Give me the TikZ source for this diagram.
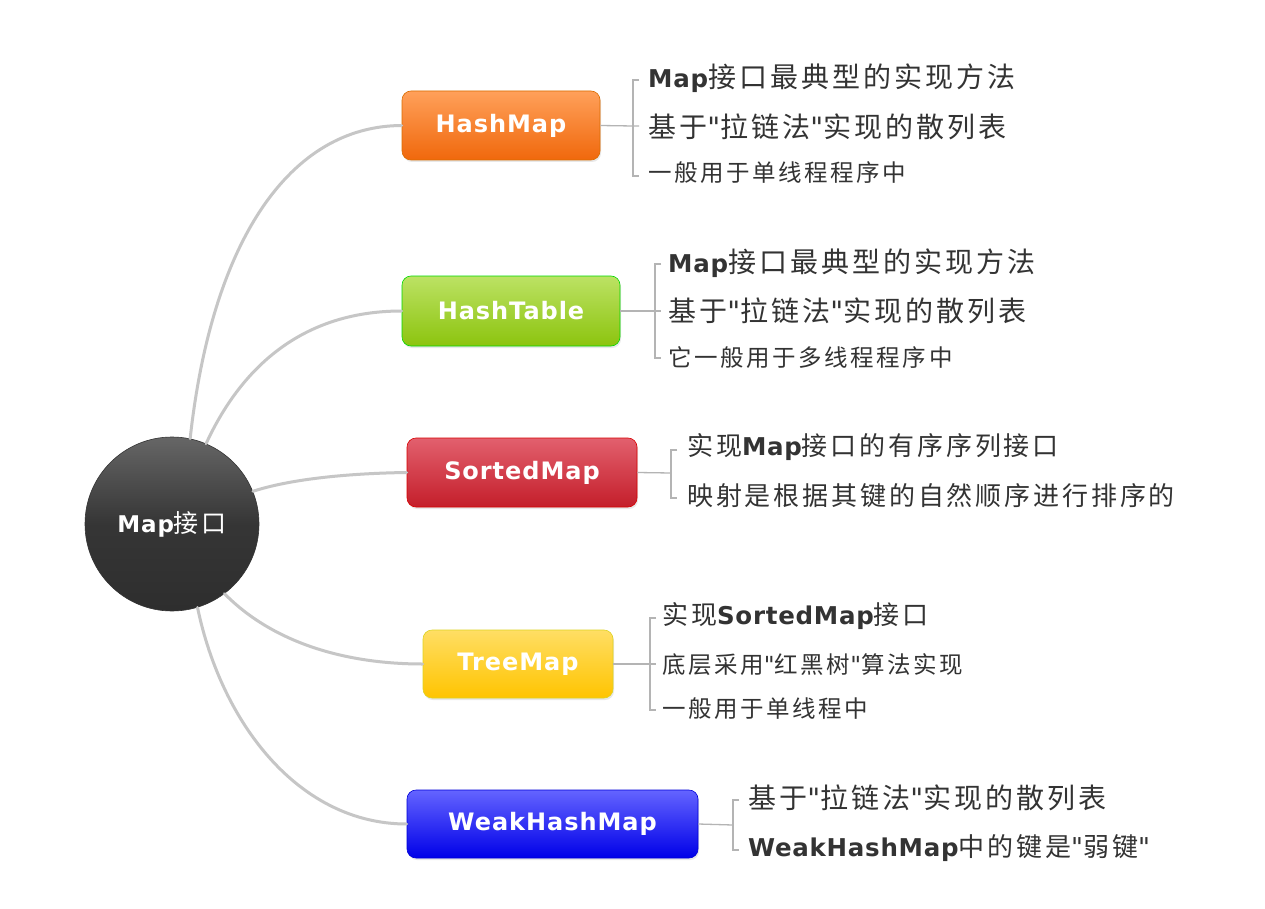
\documentclass[tikz,border=0pt]{standalone}
\usepackage{fontspec}
\usetikzlibrary{shadows}
\newfontfamily\cjk{Noto Sans CJK SC}[LetterSpace=11]
\newfontfamily\lat{DejaVu Sans}[LetterSpace=4]
\newfontfamily\latd{DejaVu Sans}[LetterSpace=3]
\definecolor{txt}{HTML}{333333}
\definecolor{linkgray}{HTML}{C6C6C6}
\definecolor{brgray}{HTML}{B4B4B4}
\newcommand{\q}{{\lat"}}
\newcommand{\B}[1]{{\latd\bfseries\fontsize{24.5}{28}\selectfont #1}}
\tikzset{
  branch/.style={draw=linkgray, line width=3pt, line cap=round},
  bracketline/.style={draw=brgray, line width=1.3pt},
  topic/.style={rounded corners=9pt, draw=#1!85!black, line width=0.6pt,
    drop shadow={opacity=0.18, shadow xshift=1pt, shadow yshift=-2pt},
    text=white, font=\lat\bfseries\fontsize{24}{28}\selectfont, inner sep=0pt},
  big/.style={anchor=west, inner sep=0pt, text=txt, font=\cjk\fontsize{28}{32}\selectfont},
  mid/.style={anchor=west, inner sep=0pt, text=txt, font=\cjk\fontsize{26}{30}\selectfont},
  small/.style={anchor=west, inner sep=0pt, text=txt, font=\cjk\fontsize{23.5}{27}\selectfont},
}
\begin{document}
\begin{tikzpicture}[x=1pt,y=-1pt]
\useasboundingbox[fill=white] (0,0) rectangle (1265,909);

% root
\node[circle, minimum size=174pt, inner sep=0pt, draw=black!80, line width=0.6pt,
  top color=black!60, bottom color=black!82, middle color=black!79,
  text=white, font=\cjk\fontsize{25}{29}\selectfont] (root) at (172,524)
  {{\lat\bfseries\fontsize{23}{27}\selectfont Map}接口};

% topics
\node[topic=orange, minimum width=198pt, minimum height=69pt,
  top color={rgb,255:red,255;green,160;blue,90}, bottom color={rgb,255:red,240;green,104;blue,12}]
  (hm) at (501,125.5) {HashMap};
\node[topic=green, minimum width=218pt, minimum height=70pt,
  top color={rgb,255:red,188;green,226;blue,100}, bottom color={rgb,255:red,140;green,196;blue,14}]
  (ht) at (511,311) {HashTable};
\node[topic=red, minimum width=230pt, minimum height=69pt,
  top color={rgb,255:red,226;green,96;blue,110}, bottom color={rgb,255:red,196;green,30;blue,42}]
  (sm) at (522,472.5) {SortedMap};
\node[topic=yellow, minimum width=190pt, minimum height=68pt,
  top color={rgb,255:red,255;green,222;blue,100}, bottom color={rgb,255:red,255;green,196;blue,0}]
  (tm) at (518,664) {TreeMap};
\node[topic=blue, minimum width=291pt, minimum height=68pt,
  top color={rgb,255:red,100;green,100;blue,255}, bottom color={rgb,255:red,0;green,0;blue,232}]
  (wm) at (552.5,824) {WeakHashMap};

% branches from root
\draw[branch] (root.78) .. controls (212,240) and (290,126) .. (hm.west);
\draw[branch] (root.67) .. controls (240,370) and (300,311) .. (ht.west);
\draw[branch] (root.22) .. controls (300,476) and (370,473) .. (sm.west);
\draw[branch] (root.-53) .. controls (270,640) and (340,664) .. (tm.west);
\draw[branch] (root.-73) .. controls (222,725) and (300,824) .. (wm.west);

% HashMap details
\node[big]   (hm1) at (648,78)  {\B{Map}接口最典型的实现方法};
\node[big]   (hm2) at (648,127) {基于\q 拉链法\q 实现的散列表};
\node[small] (hm3) at (648,173) {一般用于单线程程序中};
\coordinate (hmb) at (633,126);
\draw[bracketline] (hm.east) -- (hmb) -- ++(6,0);
\draw[bracketline] (639,80) -- (633,80) -- (633,176) -- (639,176);

% HashTable details
\node[big]   (ht1) at (668,263) {\B{Map}接口最典型的实现方法};
\node[big]   (ht2) at (668,311) {基于\q 拉链法\q 实现的散列表};
\node[small] (ht3) at (668,358) {它一般用于多线程程序中};
\coordinate (htb) at (655,311);
\draw[bracketline] (ht.east) -- (htb) -- ++(6,0);
\draw[bracketline] (661,264) -- (655,264) -- (655,358) -- (661,358);

% SortedMap details
\node[mid] (sm1) at (687,447) {实现\B{Map}接口的有序序列接口};
\node[mid] (sm2) at (687,496) {映射是根据其键的自然顺序进行排序的};
\coordinate (smb) at (671,473);
\draw[bracketline] (sm.east) -- (smb);
\draw[bracketline] (677,450) -- (671,450) -- (671,498) -- (677,498);

% TreeMap details
\node[mid]   (tm1) at (662,616) {实现\B{SortedMap}接口};
\node[small] (tm2) at (662,665) {底层采用\q 红黑树\q 算法实现};
\node[small] (tm3) at (662,709) {一般用于单线程中};
\coordinate (tmb) at (650,664);
\draw[bracketline] (tm.east) -- (tmb) -- ++(6,0);
\draw[bracketline] (656,618) -- (650,618) -- (650,710) -- (656,710);

% WeakHashMap details
\node[big] (wm1) at (748,798) {基于\q 拉链法\q 实现的散列表};
\node[mid] (wm2) at (748,848) {\B{WeakHashMap}中的键是\q 弱键\q};
\coordinate (wmb) at (733,825);
\draw[bracketline] (wm.east) -- (wmb);
\draw[bracketline] (739,800) -- (733,800) -- (733,850) -- (739,850);
\end{tikzpicture}
\end{document}
